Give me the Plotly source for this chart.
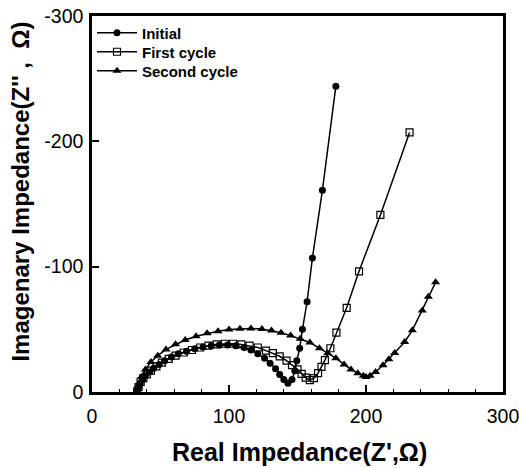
import plotly.graph_objects as go

# ---- data ----
initial_x = [33, 34, 35, 37, 39, 42, 45, 49, 53, 58, 63, 69, 75, 81, 87, 93, 99, 105,
             111, 116, 121, 126, 130, 134, 137, 140, 143, 146, 148, 149.5,
             151.6, 153.6, 157.0, 160.9, 168.2, 178.0]
initial_y = [-0.5, -4, -7, -10, -13, -16, -19, -22, -25, -28, -30.5, -32.5, -34.5, -36,
             -37, -37.5, -37.5, -37, -35.5, -33.5, -30.5, -27, -23, -18.5, -14, -10,
             -7, -10, -17, -25, -35, -50, -72, -107, -161, -244]

first_x = [33, 34, 35.5, 37.5, 40, 43, 47, 51, 56, 61, 67, 73, 79, 85, 91, 97, 103,
           109, 115, 121, 127, 132, 137, 142, 146, 150, 153, 156, 159, 162, 165,
           167.5, 170, 174, 178.4, 185.9, 194.9, 210.5, 231.8]
first_y = [-0.5, -4, -8, -11, -14, -17, -20.5, -23.5, -26.5, -29, -31.5, -33.5, -35.5,
           -37, -38, -38.5, -38.5, -38, -37, -35.5, -33, -31, -28.5, -25, -21.5, -18,
           -14.5, -11.5, -9.5, -11, -15, -20, -25.4, -34.9, -47.4, -67.2, -96.3,
           -141.3, -207.1]

second_x = [33, 34, 36, 39, 43, 48, 54, 61, 68, 76, 84, 92, 100, 108, 116, 124, 131,
            138, 145, 152, 159, 166, 172, 178, 184, 189, 194, 198, 200, 203, 207,
            212.4, 216.7, 220.9, 228.2, 233.8, 241.1, 245.5, 250.8]
second_y = [-0.5, -6, -12, -18, -24, -29, -34, -38, -41.5, -44.5, -46.8, -48.5, -49.8,
            -50.5, -50.7, -50.3, -49, -47.3, -45, -42.5, -39.5, -35, -31, -27, -22,
            -18, -15, -13, -12, -13, -16, -21.4, -26.2, -31.2, -39.9, -49.2, -65.1,
            -76, -87.5]

series_names = ["Initial", "First cycle", "Second cycle"]
x_ticks = [0, 100, 200, 300]
x_ticktext = ["0", "100", "200", "300"]
y_ticks = [0, -100, -200, -300]
y_ticktext = ["0", "-100", "-200", "-300"]
x_title = "Real Impedance(Z',Ω)"
y_title = "Imagenary Impedance(Z'' ,  Ω)"

FONT = "Liberation Sans, Arial, sans-serif"
W, H = 519, 468
ML, MR, MT, MB = 92, 15.5, 16, 76
PH = H - MT - MB


def paper_y(py):
    return (H - MB - py) / PH


def paper_x(px):
    return (px - ML) / (W - ML - MR)


fig = go.Figure()
fig.add_trace(go.Scatter(x=initial_x, y=initial_y, mode="lines+markers", name=series_names[0],
                         legend="legend",
                         line=dict(color="black", width=1.5),
                         marker=dict(symbol="circle", size=7, color="black")))
fig.add_trace(go.Scatter(x=first_x, y=first_y, mode="lines+markers", name=series_names[1],
                         legend="legend2",
                         line=dict(color="black", width=1.5),
                         marker=dict(symbol="square-open", size=7, color="black",
                                     line=dict(width=1.2))))
fig.add_trace(go.Scatter(x=second_x, y=second_y, mode="lines+markers", name=series_names[2],
                         legend="legend3",
                         line=dict(color="black", width=1.5),
                         marker=dict(symbol="triangle-up", size=8, color="black")))

axis_common = dict(showgrid=False, zeroline=False, showline=True, linecolor="black",
                   linewidth=2.5, mirror=True, ticks="inside", ticklen=7, tickwidth=2,
                   tickcolor="black", automargin=False, ticklabeloverflow="allow",
                   tickfont=dict(family=FONT, size=19.5, color="black"))

fig.update_xaxes(range=[0, 300], tickvals=x_ticks, ticktext=x_ticktext,
                 ticklabelstandoff=5,
                 minor=dict(tickvals=list(range(20, 300, 20)), ticks="inside", ticklen=3,
                            tickwidth=1, tickcolor="black"),
                 **axis_common)
fig.update_yaxes(range=[0, -300], tickvals=y_ticks, ticktext=y_ticktext,
                 ticklabelstandoff=2,
                 **axis_common)

leg_common = dict(xanchor="left", yanchor="middle", bgcolor="rgba(0,0,0,0)", borderwidth=0,
                  font=dict(family=FONT, size=15, color="black", weight="bold"),
                  itemwidth=40)
row_py = [33, 52, 71]
fig.update_layout(
    width=W, height=H,
    margin=dict(l=ML, r=MR, t=MT, b=MB),
    paper_bgcolor="white", plot_bgcolor="white",
    font=dict(family=FONT, color="black"),
    showlegend=True,
    legend=dict(x=0.0, y=paper_y(row_py[0]), **leg_common),
    legend2=dict(x=0.0, y=paper_y(row_py[1]), **leg_common),
    legend3=dict(x=0.0, y=paper_y(row_py[2]), **leg_common),
    annotations=[
        dict(text=x_title, xref="paper", yref="paper", x=paper_x(299.5), y=paper_y(452),
             xanchor="center", yanchor="middle", showarrow=False,
             font=dict(family=FONT, size=25, color="black", weight="bold")),
        dict(text=y_title, xref="paper", yref="paper", x=paper_x(20), y=paper_y(191.5),
             xanchor="center", yanchor="middle", showarrow=False, textangle=-90,
             font=dict(family=FONT, size=24, color="black", weight="bold")),
    ],
)

fig.write_html("out.html", config={"displayModeBar": False},
               post_script="document.body.style.margin='0px';document.body.style.overflow='hidden';")
